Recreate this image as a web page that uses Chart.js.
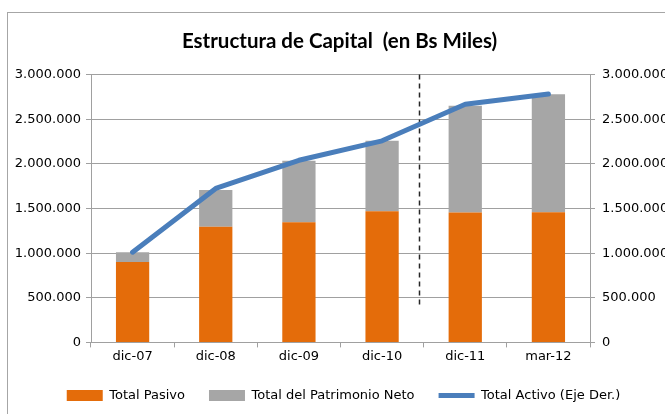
<!DOCTYPE html>
<html>
<head>
<meta charset="utf-8">
<script src="https://cdn.jsdelivr.net/npm/chart.js@4.4.1/dist/chart.umd.min.js"></script>
<style>
  html, body { margin: 0; padding: 0; background: #fff; overflow: hidden; }
  #wrap { position: relative; width: 665px; height: 414px; }
  #frame {
    position: absolute; left: 7px; top: 12px; width: 700px; height: 450px;
    border-left: 1px solid #a6a6a6; border-top: 1px solid #a6a6a6;
  }
  #chart { position: absolute; left: 0; top: 0; }
</style>
</head>
<body>
<div id="wrap">
  <div id="frame"></div>
  <canvas id="chart" width="665" height="414"></canvas>
</div>
<script>
// Periodos y montos (en Bs Miles)
const periodos = ['dic-07', 'dic-08', 'dic-09', 'dic-10', 'dic-11', 'mar-12'];
const totalPasivo = [902000, 1295000, 1345000, 1470000, 1455000, 1458000];
const totalPatrimonio = [109000, 413000, 689000, 788000, 1197000, 1321000];
const totalActivo = [1011000, 1725000, 2040000, 2258000, 2668000, 2782000];
const ejeTicks = [0, 500000, 1000000, 1500000, 2000000, 2500000, 3000000];

// linea punteada que separa los cierres anuales
const separadorIndice = 3.44;
const separadorDesde = 380000;
const separadorHasta = 3000000;

const fmtMiles = v => String(v).replace(/\B(?=(\d{3})+(?!\d))/g, '.');

const GRID = '#a0a0a0';
const FONT = { family: 'DejaVu Sans', size: 13 };

const separador = {
  id: 'separador',
  beforeDatasetsDraw(chart) {
    const x = Math.round(chart.scales.x.getPixelForValue(separadorIndice)) + 0.5;
    const y = chart.scales.y;
    const ctx = chart.ctx;
    ctx.save();
    ctx.strokeStyle = '#262626';
    ctx.lineWidth = 1.5;
    ctx.setLineDash([5, 4]);
    ctx.beginPath();
    ctx.moveTo(x, y.getPixelForValue(separadorHasta));
    ctx.lineTo(x, y.getPixelForValue(separadorDesde));
    ctx.stroke();
    ctx.restore();
  }
};

// titulo y leyenda quedan centrados dentro del marco, no del canvas
const centradoEnMarco = {
  id: 'centradoEnMarco',
  afterLayout(chart) {
    chart.legend.left += 22;
    chart.titleBlock.left += 14;
  }
};

new Chart(document.getElementById('chart'), {
  type: 'bar',
  data: {
    labels: periodos,
    datasets: [
      {
        label: 'Total Pasivo',
        data: totalPasivo,
        backgroundColor: '#e46c0a',
        pointStyle: 'rect',
        borderWidth: 0,
        order: 1,
        barPercentage: 0.4,
        categoryPercentage: 1
      },
      {
        label: 'Total del Patrimonio Neto',
        data: totalPatrimonio,
        backgroundColor: '#a6a6a6',
        pointStyle: 'rect',
        borderWidth: 0,
        order: 1,
        barPercentage: 0.4,
        categoryPercentage: 1
      },
      {
        type: 'line',
        label: 'Total Activo (Eje Der.)',
        data: totalActivo,
        yAxisID: 'y1',
        borderColor: '#4a7ebb',
        backgroundColor: '#4a7ebb',
        borderWidth: 5,
        borderCapStyle: 'round',
        borderJoinStyle: 'round',
        pointRadius: 0,
        pointStyle: 'line',
        tension: 0,
        order: 0
      }
    ]
  },
  options: {
    responsive: false,
    animation: false,
    layout: { padding: { left: 0, right: 0, top: 0, bottom: 2 } },
    scales: {
      x: {
        stacked: true,
        offset: true,
        grid: { offset: true, drawOnChartArea: false, color: GRID, tickLength: 5 },
        border: { color: GRID },
        ticks: { color: '#000', font: FONT, padding: 1 }
      },
      y: {
        stacked: true,
        min: 0,
        max: 3000000,
        afterBuildTicks: s => { s.ticks = ejeTicks.map(v => ({ value: v })); },
        afterFit: s => { s.width = 91; },
        grid: { color: GRID, tickLength: 5 },
        border: { color: GRID },
        ticks: { color: '#000', font: FONT, padding: 5, callback: v => fmtMiles(v) }
      },
      y1: {
        position: 'right',
        min: 0,
        max: 3000000,
        afterBuildTicks: s => { s.ticks = ejeTicks.map(v => ({ value: v })); },
        afterFit: s => { s.width = 75; },
        grid: { drawOnChartArea: false, color: GRID, tickLength: 5 },
        border: { color: GRID },
        ticks: { color: '#000', font: FONT, padding: 7, callback: v => fmtMiles(v) }
      }
    },
    plugins: {
      title: {
        display: true,
        text: 'Estructura de Capital  (en Bs Miles)',
        color: '#000',
        font: { family: 'Lato', size: 20.5, weight: 'bold' },
        padding: { top: 29, bottom: 21 }
      },
      legend: {
        position: 'bottom',
        labels: {
          color: '#000',
          font: FONT,
          usePointStyle: true,
          pointStyleWidth: 36,
          boxHeight: 11,
          padding: 24,
          sort: (a, b) => a.datasetIndex - b.datasetIndex
        }
      },
      tooltip: { enabled: false }
    }
  },
  plugins: [separador, centradoEnMarco]
});
</script>
</body>
</html>
